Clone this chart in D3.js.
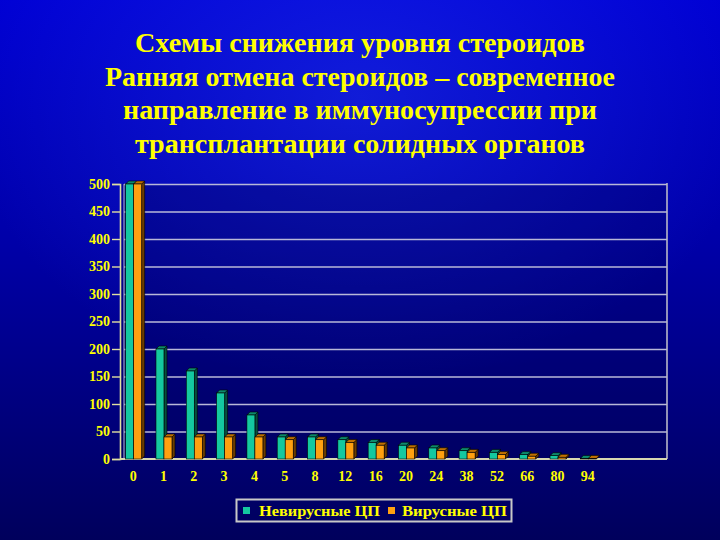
<!DOCTYPE html>
<html>
<head>
<meta charset="utf-8">
<script src="https://d3js.org/d3.v7.min.js"></script>
<style>
  body { margin: 0; background: #000060; }
  svg { display: block; }
</style>
</head>
<body>
<div id="chart"></div>
<script>
// Chart data
var titleLines = [
  "Схемы снижения уровня стероидов",
  "Ранняя отмена стероидов – современное",
  "направление в иммуносупрессии при",
  "трансплантации солидных органов"
];
var categories = ["0", "1", "2", "3", "4", "5", "8", "12", "16", "20", "24", "38", "52", "66", "80", "94"];
var nonViral = [500, 200, 160, 120, 80, 40, 40, 35, 30, 25, 20, 15, 12, 8, 6, 1];
var viral = [500, 40, 40, 40, 40, 35, 35, 30, 25, 20, 15, 12, 8, 5, 3, 1];
var seriesNames = ["Невирусные ЦП", "Вирусные ЦП"];
var yTicks = [0, 50, 100, 150, 200, 250, 300, 350, 400, 450, 500];

var svgWidth = 720;
var svgHeight = 540;

// plot box
var plot = { left: 120, right: 667, top: 184, bottom: 459 };
var depth = 3;

var svg = d3.select("#chart")
  .append("svg")
  .attr("width", svgWidth)
  .attr("height", svgHeight);

var defs = svg.append("defs");
var bg = defs.append("linearGradient")
  .attr("id", "bg")
  .attr("x1", 0).attr("y1", 0).attr("x2", 0).attr("y2", 1);
bg.append("stop").attr("offset", "0%").attr("stop-color", "#0000d4");
bg.append("stop").attr("offset", "45%").attr("stop-color", "#0000a8");
bg.append("stop").attr("offset", "100%").attr("stop-color", "#00005c");

var glow = defs.append("radialGradient")
  .attr("id", "glow")
  .attr("cx", "50%").attr("cy", "18%").attr("r", "55%");
glow.append("stop").attr("offset", "0%").attr("stop-color", "#3050ff").attr("stop-opacity", 0.35);
glow.append("stop").attr("offset", "100%").attr("stop-color", "#3050ff").attr("stop-opacity", 0);

svg.append("rect").attr("width", svgWidth).attr("height", svgHeight).attr("fill", "url(#bg)");
svg.append("rect").attr("width", svgWidth).attr("height", svgHeight).attr("fill", "url(#glow)");

// Title
var titleWidths = [450, 510, 474, 450];
svg.append("g")
  .selectAll("text")
  .data(titleLines)
  .enter()
  .append("text")
  .attr("x", svgWidth / 2)
  .attr("y", (d, i) => 52 + i * 33.5)
  .attr("text-anchor", "middle")
  .attr("font-family", "Liberation Serif, Times New Roman, serif")
  .attr("font-weight", "bold")
  .attr("font-size", "27px")
  .attr("fill", "#ffff00")
  .attr("textLength", (d, i) => titleWidths[i])
  .attr("lengthAdjust", "spacingAndGlyphs")
  .text(d => d);

// Scales
var x0 = d3.scaleBand()
  .domain(categories)
  .range([118, 603]);

var x1 = d3.scaleBand()
  .domain(seriesNames)
  .range([0, 16]);

var y = d3.scaleLinear()
  .domain([0, 500])
  .range([plot.bottom, plot.top]);

// plot area shading
svg.append("rect")
  .attr("x", plot.left)
  .attr("y", plot.top)
  .attr("width", plot.right - plot.left)
  .attr("height", plot.bottom - plot.top)
  .attr("fill", "#000040")
  .attr("opacity", 0.25);

// Gridlines
svg.append("g")
  .attr("transform", `translate(${plot.left + 4}, 0)`)
  .call(d3.axisLeft(y).tickValues(yTicks.slice(1)).tickSize(-(plot.right - plot.left - 4)).tickFormat(""))
  .call(g => g.select(".domain").remove())
  .call(g => g.selectAll("line").attr("stroke", "#b8b8d8").attr("stroke-width", 1.6));

// wall lines
svg.append("line")
  .attr("x1", plot.left + 4).attr("x2", plot.left + 4)
  .attr("y1", plot.top).attr("y2", plot.bottom)
  .attr("stroke", "#a0a0c0").attr("stroke-width", 1.2);
svg.append("line")
  .attr("x1", plot.right).attr("x2", plot.right)
  .attr("y1", plot.top - 1).attr("y2", plot.bottom)
  .attr("stroke", "#b8b8c8").attr("stroke-width", 1.6);
// floor
svg.append("line")
  .attr("x1", plot.left).attr("x2", plot.right)
  .attr("y1", y(0)).attr("y2", y(0))
  .attr("stroke", "#d8d8b0").attr("stroke-width", 1.8);

// Y axis
svg.append("g")
  .attr("transform", `translate(${plot.left}, 0)`)
  .call(d3.axisLeft(y).tickValues(yTicks).tickSize(8).tickPadding(2))
  .call(g => g.select(".domain").attr("stroke", "#e0e0a0").attr("stroke-width", 1.6))
  .call(g => g.selectAll("line").attr("stroke", "#e0e0a0").attr("stroke-width", 1.4))
  .call(g => g.selectAll("text")
    .attr("fill", "#ffff00")
    .attr("font-family", "Liberation Serif, Times New Roman, serif")
    .attr("font-weight", "bold")
    .attr("font-size", "14px"));

// X axis labels
svg.append("g")
  .attr("transform", `translate(0, ${plot.bottom + 8})`)
  .call(d3.axisBottom(x0).tickSize(0).tickPadding(4))
  .call(g => g.select(".domain").remove())
  .call(g => g.selectAll("text")
    .attr("fill", "#ffff00")
    .attr("font-family", "Liberation Serif, Times New Roman, serif")
    .attr("font-weight", "bold")
    .attr("font-size", "14px"));

// Bars (3D look)
var seriesData = [
  { name: seriesNames[0], values: nonViral, front: "#14c8a0", top: "#0c8a6c", side: "#05503e" },
  { name: seriesNames[1], values: viral, front: "#ffa010", top: "#c07000", side: "#6a3c00" }
];

var barW = x1.bandwidth();
var bars = [];
categories.forEach(function(c, i) {
  seriesData.forEach(function(s) {
    bars.push({ cat: c, v: s.values[i], s: s });
  });
});

var barGroup = svg.append("g");
bars.forEach(function(b) {
  var bx = x0(b.cat) + x0.bandwidth() / 2 - 7.5 + x1(b.s.name);
  var yt = y(b.v);
  var yb = y(0);
  var g = barGroup.append("g");
  g.append("path")
    .attr("d", `M${bx + barW},${yt} L${bx + barW + depth},${yt - depth} L${bx + barW + depth},${yb - depth} L${bx + barW},${yb} Z`)
    .attr("fill", b.s.side)
    .attr("stroke", "#000")
    .attr("stroke-width", 0.6);
  g.append("path")
    .attr("d", `M${bx},${yt} L${bx + depth},${yt - depth} L${bx + barW + depth},${yt - depth} L${bx + barW},${yt} Z`)
    .attr("fill", b.s.top)
    .attr("stroke", "#000")
    .attr("stroke-width", 0.6);
  g.append("rect")
    .attr("x", bx)
    .attr("y", yt)
    .attr("width", barW)
    .attr("height", yb - yt)
    .attr("fill", b.s.front)
    .attr("stroke", "#000")
    .attr("stroke-width", 0.6);
});

// Legend
var legend = svg.append("g");
legend.append("rect")
  .attr("x", 236.5).attr("y", 499.5)
  .attr("width", 275).attr("height", 22)
  .attr("fill", "none")
  .attr("stroke", "#c8c8c8")
  .attr("stroke-width", 2);

var legendItems = [
  { name: seriesNames[0], color: seriesData[0].front, sx: 243, tx: 259, tw: 121 },
  { name: seriesNames[1], color: seriesData[1].front, sx: 388, tx: 402, tw: 105 }
];
legendItems.forEach(function(d) {
  legend.append("rect")
    .attr("x", d.sx).attr("y", 507)
    .attr("width", 7).attr("height", 7)
    .attr("fill", d.color);
  legend.append("text")
    .attr("x", d.tx).attr("y", 516)
    .attr("font-family", "Liberation Serif, Times New Roman, serif")
    .attr("font-weight", "bold")
    .attr("font-size", "15px")
    .attr("fill", "#ffff00")
    .attr("textLength", d.tw)
    .attr("lengthAdjust", "spacingAndGlyphs")
    .text(d.name);
});
</script>
</body>
</html>
